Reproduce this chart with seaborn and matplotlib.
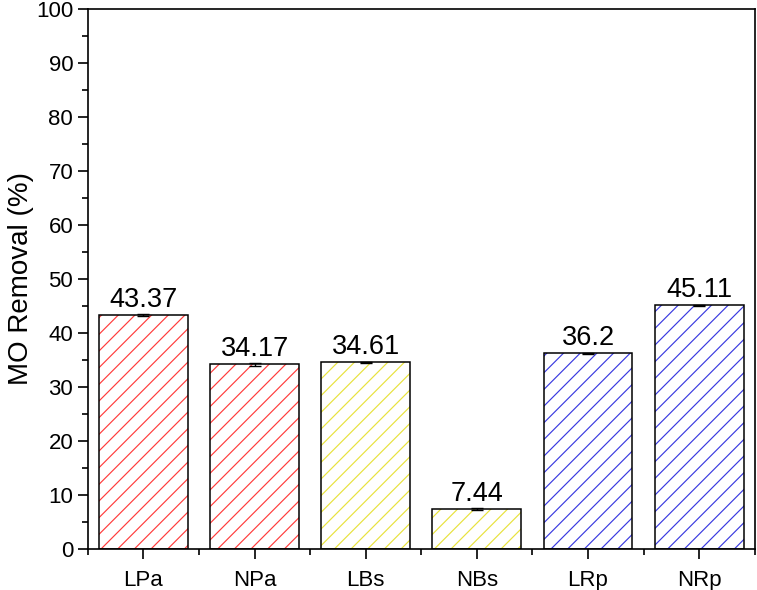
import matplotlib
matplotlib.use("Agg")
import matplotlib.pyplot as plt
from matplotlib.ticker import MultipleLocator, FixedLocator
import seaborn as sns

samples = ["LPa", "NPa", "LBs", "NBs", "LRp", "NRp"]
removal = [43.37, 34.17, 34.61, 7.44, 36.2, 45.11]
removal_err = [0.15, 0.2, 0.1, 0.15, 0.1, 0.1]
hatch_colors = ["#FF3B3B", "#FF3B3B", "#E8E23C", "#E8E23C", "#3A3AE0", "#3A3AE0"]

sns.set_theme(style="ticks")
plt.rcParams["font.family"] = ["Liberation Sans", "DejaVu Sans"]
plt.rcParams["text.color"] = "black"
plt.rcParams["axes.labelcolor"] = "black"
plt.rcParams["hatch.linewidth"] = 0.85

fig = plt.figure(figsize=(7.57, 5.9), dpi=100)
ax = fig.add_axes([0.116, 0.0695, 0.881, 0.9155])

# hatch layer (hatch takes the edge colour), then black outlines on top
sns.barplot(x=samples, y=removal, color="white", width=0.8, linewidth=0, ax=ax)
for patch, c in zip(ax.patches, hatch_colors):
    patch.set_hatch("//")
    patch.set_edgecolor(c)
    patch.set_linewidth(0)
sns.barplot(x=samples, y=removal, fill=False, width=0.8, edgecolor="black",
            linewidth=1.1, ax=ax)

ax.errorbar(range(len(samples)), removal, yerr=removal_err, fmt="none",
            ecolor="black", elinewidth=1, capsize=4, capthick=1)

for i, v in enumerate(removal):
    ax.text(i, v + 0.4, f"{v:g}", ha="center", va="bottom", fontsize=19.5,
            color="black")

ax.set_xlim(-0.5, 5.5)
ax.set_ylim(0, 100)
ax.yaxis.set_major_locator(MultipleLocator(10))
ax.yaxis.set_minor_locator(MultipleLocator(5))
ax.xaxis.set_minor_locator(FixedLocator([i + 0.5 for i in range(-1, 6)]))
ax.set_ylabel("MO Removal (%)", fontsize=20)
ax.set_xlabel("")
ax.yaxis.set_label_coords(-0.08, 0.5)

for s in ax.spines.values():
    s.set_linewidth(1.2)
    s.set_color("black")
ax.tick_params(axis="both", which="major", direction="out", length=7, width=1.2,
               labelsize=16, colors="black")
ax.tick_params(axis="both", which="minor", direction="out", length=4, width=1.2,
               colors="black")
ax.tick_params(axis="x", which="major", pad=8)

fig.savefig("out.png", dpi=100)
